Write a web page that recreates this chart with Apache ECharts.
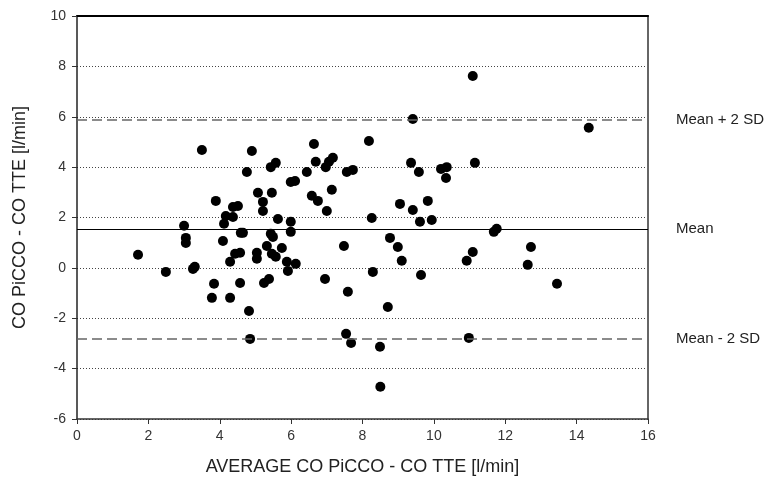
<!DOCTYPE html>
<html>
<head>
<meta charset="utf-8">
<title>Bland-Altman CO PiCCO vs CO TTE</title>
<script src="https://cdn.jsdelivr.net/npm/echarts@6/dist/echarts.min.js"></script>
<style>
  html, body { margin: 0; padding: 0; background: #fff; }
  #chart { width: 775px; height: 491px; }
</style>
</head>
<body>
<div id="chart"></div>
<script>
// average CO (x) and difference (y)
const avgCO = [
  1.71, 2.49, 3.00, 3.05, 3.05, 3.25, 3.30, 3.50, 3.78, 3.84,
  3.89, 4.09, 4.12, 4.17, 4.29, 4.29, 4.37, 4.37, 4.51, 4.43,
  4.57, 4.57, 4.59, 4.65, 4.76, 4.82, 4.85, 4.90, 5.04, 5.04,
  5.07, 5.21, 5.21, 5.24, 5.32, 5.38, 5.43, 5.49, 5.46, 5.57,
  5.43, 5.57, 5.46, 5.63, 5.74, 5.88, 5.91, 5.99, 5.99, 5.99,
  6.11, 6.13, 6.44, 6.58, 6.64, 6.69, 6.75, 6.95, 6.97, 7.00,
  7.06, 7.14, 7.17, 7.48, 7.54, 7.56, 7.59, 7.68, 7.73, 8.18,
  8.26, 8.29, 8.49, 8.50, 8.71, 8.77, 8.99, 9.05, 9.10, 9.36,
  9.41, 9.41, 9.58, 9.61, 9.64, 9.83, 9.94, 10.20, 10.36, 10.34,
  10.92, 10.98, 11.09, 11.09, 11.15, 11.68, 11.76, 12.63, 12.72, 13.45,
  14.34
]
const diffCO = [
  0.52, -0.16, 1.67, 1.19, 0.99, -0.04, 0.04, 4.68, -1.19, -0.63,
  2.66, 1.07, 1.75, 2.06, -1.19, 0.24, 2.02, 2.42, 2.46, 0.56,
  0.60, -0.60, 1.39, 1.39, 3.81, -1.71, -2.82, 4.64, 0.60, 0.36,
  2.98, 2.62, 2.26, -0.60, 0.87, -0.44, 1.35, 1.23, 0.56, 0.44,
  4.00, 4.17, 2.98, 1.94, 0.79, 0.24, -0.12, 1.83, 1.43, 3.41,
  3.45, 0.16, 3.81, 2.86, 4.92, 4.21, 2.66, -0.44, 4.00, 2.26,
  4.21, 3.10, 4.37, 0.87, -2.62, 3.81, -0.95, -2.98, 3.89, 5.04,
  1.98, -0.16, -3.13, -4.72, -1.55, 1.19, 0.83, 2.54, 0.28, 4.17,
  5.91, 2.30, 3.81, 1.83, -0.28, 2.66, 1.90, 3.93, 4.00, 3.57,
  0.28, -2.78, 0.63, 7.62, 4.17, 1.43, 1.55, 0.12, 0.83, -0.63,
  5.56
]
// reference lines
const meanDiff = 1.54
const upperLoA = 5.88
const lowerLoA = -2.80

const fontFamily = "'Liberation Sans', Arial, sans-serif"

const chart = echarts.init(document.getElementById('chart'))

const option = {
  animation: false,
  backgroundColor: '#fff',
  grid: { left: 77, right: 127, top: 16, bottom: 72 },
  xAxis: [
    {
      type: 'value',
      min: 0, max: 16, interval: 2,
      name: 'AVERAGE CO PiCCO - CO TTE [l/min]',
      nameLocation: 'middle',
      nameGap: 39,
      nameTextStyle: { color: '#222', fontSize: 18, fontFamily },
      axisLine: { onZero: false, lineStyle: { color: '#333', width: 1.5 } },
      axisTick: { show: true, length: 5, lineStyle: { color: '#333' } },
      axisLabel: { color: '#333', fontSize: 14, margin: 10, fontFamily },
      splitLine: { show: false }
    },
    {
      // top border
      type: 'value', position: 'top',
      min: 0, max: 16,
      axisLine: { onZero: false, lineStyle: { color: '#000', width: 2 } },
      axisTick: { show: false }, axisLabel: { show: false },
      splitLine: { show: false }
    }
  ],
  yAxis: [
    {
      type: 'value',
      min: -6, max: 10, interval: 2,
      name: 'CO PiCCO - CO TTE [l/min]',
      nameLocation: 'middle',
      nameGap: 48,
      nameTextStyle: { color: '#222', fontSize: 18, fontFamily },
      axisLine: { show: true, onZero: false, lineStyle: { color: '#222', width: 1.5 } },
      axisTick: { show: true, length: 5, lineStyle: { color: '#333' } },
      axisLabel: { color: '#333', fontSize: 14, margin: 11, fontFamily },
      splitLine: { show: true, lineStyle: { color: '#444', type: [1, 2], width: 1 } }
    },
    {
      // right border
      type: 'value', position: 'right',
      min: -6, max: 10,
      axisLine: { show: true, onZero: false, lineStyle: { color: '#666', width: 2 } },
      axisTick: { show: false }, axisLabel: { show: false },
      splitLine: { show: false }
    }
  ],
  series: [
    {
      type: 'scatter',
      symbol: 'circle',
      symbolSize: 10,
      itemStyle: { color: '#000', opacity: 1 },
      data: avgCO.map((x, i) => [x, diffCO[i]]),
      markLine: {
        silent: true,
        symbol: 'none',
        label: {
          position: 'end',
          distance: 28,
          color: '#222',
          fontSize: 15,
          fontFamily
        },
        data: [
          {
            yAxis: upperLoA,
            label: { formatter: 'Mean + 2 SD' },
            lineStyle: { color: '#666', type: [10, 5], width: 1.5 }
          },
          {
            yAxis: meanDiff,
            label: { formatter: 'Mean' },
            lineStyle: { color: '#000', type: 'solid', width: 1.2 }
          },
          {
            yAxis: lowerLoA,
            label: { formatter: 'Mean - 2 SD' },
            lineStyle: { color: '#666', type: [10, 5], width: 1.5 }
          }
        ]
      }
    }
  ]
}

chart.setOption(option)
window.addEventListener('resize', () => chart && chart.resize())
</script>
</body>
</html>
